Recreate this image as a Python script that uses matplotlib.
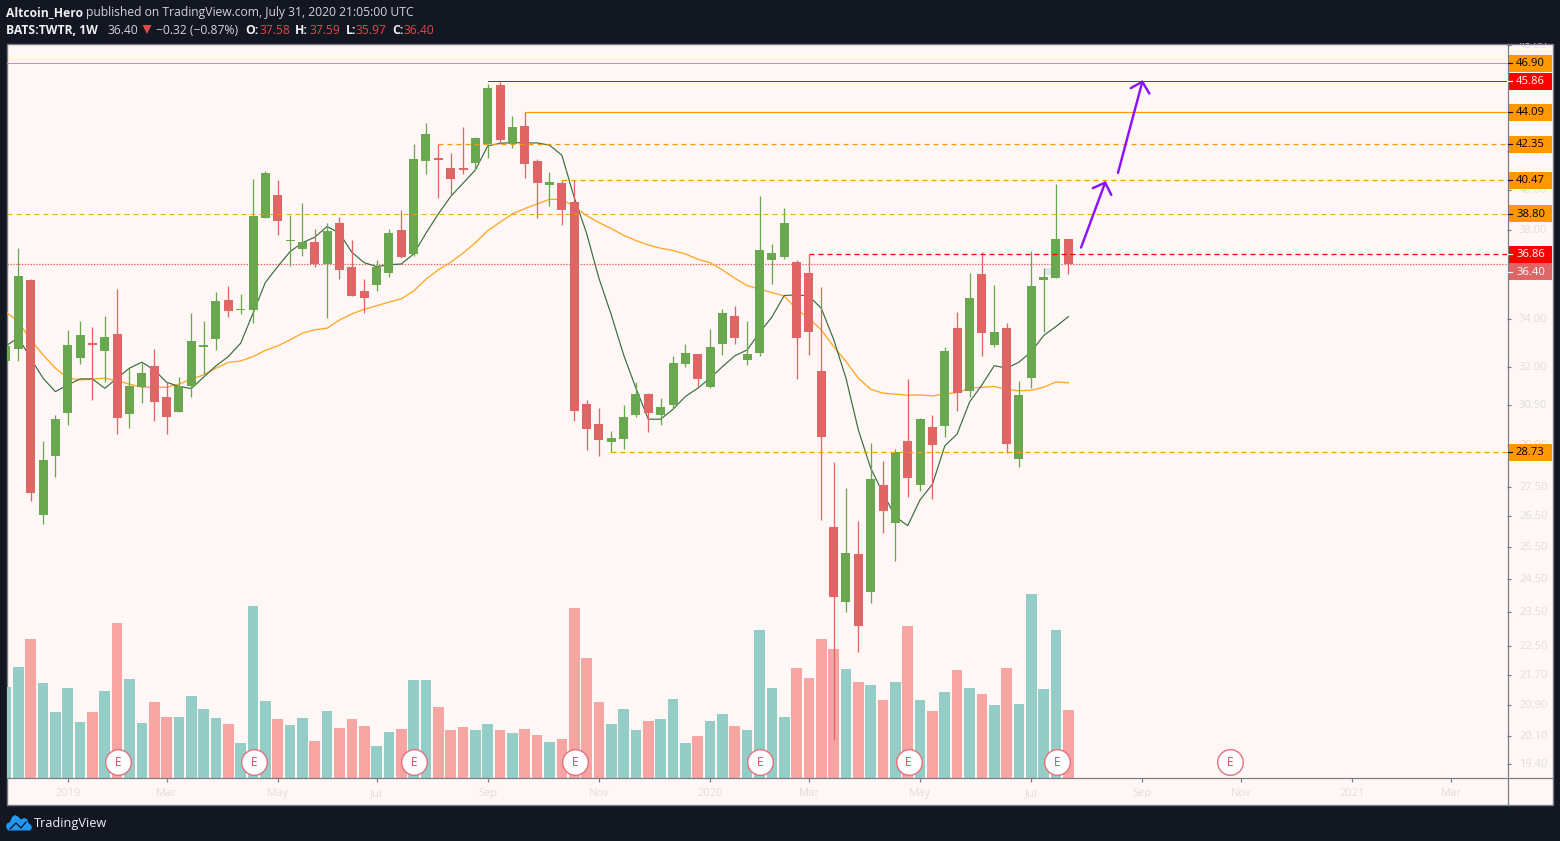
import matplotlib
matplotlib.use('Agg')
import matplotlib.pyplot as plt
import numpy as np
from matplotlib.patches import Rectangle, Polygon
from matplotlib.transforms import ScaledTranslation

# ---- data (weekly BATS:TWTR, candle index 0 = first whole candle) ----
opens = [32.23,32.72,35.70,26.55,28.60,30.19,32.35,32.97,32.64,33.35,30.15,31.19,32.03,30.80,30.23,31.23,32.81,33.14,34.81,34.37,34.37,38.60,39.73,37.49,37.12,37.45,36.42,38.35,36.28,35.20,35.47,36.01,38.02,36.88,41.47,41.63,41.10,41.10,41.36,42.37,45.64,42.37,43.34,41.47,40.23,40.34,39.38,30.53,29.77,29.11,29.22,30.11,30.92,30.11,30.49,32.11,32.52,31.19,32.93,34.11,32.27,32.56,36.61,36.74,36.51,36.01,31.83,26.15,23.79,25.28,24.09,27.57,26.28,29.14,27.57,29.66,29.70,33.60,31.04,35.97,32.89,33.60,28.49,31.55,35.70,35.79,37.58]
highs = [32.96,37.16,35.74,29.14,30.11,33.52,33.90,33.64,34.11,35.29,31.95,32.15,32.72,31.39,31.59,34.24,33.90,35.16,35.43,35.07,40.54,40.95,40.49,38.74,39.33,38.06,38.35,38.64,37.54,35.74,36.61,38.06,38.99,42.37,43.50,42.37,41.89,43.28,42.74,45.69,45.81,43.89,44.09,41.57,40.90,40.47,40.47,30.69,30.38,29.51,30.49,31.39,30.96,30.76,32.44,32.93,32.52,33.56,34.42,34.55,33.90,39.68,37.35,39.08,36.61,36.88,35.38,28.38,27.47,26.35,29.07,28.42,28.85,31.51,30.00,30.11,32.81,34.29,36.01,36.98,35.47,33.81,31.43,37.02,36.24,40.28,37.59]
lows = [32.23,32.23,27.02,26.25,27.85,29.74,32.11,30.69,31.39,29.40,29.62,30.57,29.89,29.40,30.23,30.80,31.71,32.68,34.07,34.20,33.81,38.60,37.78,36.33,36.79,36.28,34.03,35.74,34.98,34.24,35.20,35.83,36.70,36.79,40.80,39.58,39.73,40.80,41.00,41.63,42.37,42.15,40.59,38.60,39.18,38.26,29.89,28.81,28.60,28.72,28.85,30.04,29.48,29.74,30.38,31.99,31.23,31.15,32.48,32.93,32.07,32.44,35.52,36.65,31.51,32.48,26.38,20.00,23.49,22.34,23.76,25.95,25.05,27.16,27.36,27.09,29.29,30.27,30.80,32.44,32.81,28.71,28.20,31.15,33.43,35.79,35.97]
closes = [32.85,35.88,27.29,28.45,29.96,32.89,33.31,32.89,33.22,30.00,31.23,31.75,30.61,30.04,31.23,33.06,32.89,34.76,34.33,34.42,38.69,40.85,38.45,37.54,37.45,36.42,37.97,36.15,34.98,34.90,36.28,37.87,36.74,41.57,42.90,41.52,40.54,41.00,42.69,45.46,42.58,43.28,41.31,40.34,40.39,38.99,30.27,29.59,29.18,29.25,30.04,30.92,30.19,30.42,32.15,32.56,31.51,32.81,34.24,33.18,32.52,37.07,36.93,38.35,33.18,33.43,29.29,23.94,25.31,23.08,27.78,26.68,28.74,27.82,29.96,29.00,32.64,30.96,34.90,33.39,33.43,29.03,30.88,35.43,35.83,37.59,36.40]
ma_fast = [32.85,33.19,32.34,31.54,31.01,31.27,31.51,31.51,31.14,31.54,31.94,32.18,31.87,31.38,31.21,31.13,31.58,32.03,32.41,32.96,34.23,35.58,36.30,36.99,37.41,37.67,38.18,37.86,36.96,36.48,36.30,36.38,36.42,36.88,37.86,38.79,39.65,40.32,41.00,42.26,42.40,42.44,42.42,42.42,42.30,41.77,39.61,37.86,35.77,34.16,32.48,31.14,29.95,29.95,30.33,30.82,31.14,31.54,32.00,32.44,32.68,33.40,34.06,35.00,35.03,34.98,34.44,33.12,31.54,29.55,28.16,27.28,26.49,26.19,27.06,27.59,28.96,29.40,30.60,31.27,32.04,31.94,32.18,32.61,33.28,33.66,34.08]
ma_slow = [34.27,33.87,33.10,32.48,31.94,31.54,31.47,31.50,31.54,31.44,31.30,31.18,31.18,31.18,31.30,31.50,31.67,31.94,32.17,32.23,32.41,32.66,32.85,33.10,33.38,33.52,33.59,33.94,34.20,34.40,34.55,34.71,34.85,35.20,35.73,36.15,36.50,36.92,37.41,37.98,38.39,38.79,39.05,39.28,39.51,39.51,39.15,38.71,38.37,38.08,37.76,37.51,37.30,37.15,37.04,36.88,36.64,36.48,36.15,35.77,35.44,35.28,35.13,34.98,34.40,34.01,33.52,32.82,32.21,31.54,31.10,30.95,30.91,30.87,30.88,30.84,30.92,30.97,31.14,31.18,31.21,31.10,31.04,31.06,31.18,31.39,31.36]
volumes = [91,111,139,95,66,90,56,66,87,155,99,55,76,61,61,82,69,60,54,35,172,77,59,53,60,37,67,50,59,52,32,46,49,98,98,71,48,51,48,54,48,45,49,43,36,39,170,120,76,54,69,48,57,59,79,35,42,57,64,52,48,148,90,61,110,100,139,129,109,96,93,78,96,152,78,67,86,108,90,84,73,110,74,184,89,148,68]
levels = [46.90, 45.86, 44.09, 42.35, 40.47, 38.80, 36.86, 28.73]
level_start = [None, 38, 41, 34, 44, None, 64, 48]
level_colour = ['#ff9800', '#ff0000', '#ff9800', '#ff9800', '#ff9800', '#ff9800', '#ff0000', '#ff9800']
level_dashed = [False, False, False, True, True, True, True, True]
level_width = [1.0, 1.0, 1.2, 1.2, 1.2, 0.9, 1.3, 1.2]
last_price = 36.40
earnings_idx = [8, 19, 32, 45, 60, 72, 84, 98]
date_idx = [4, 12, 21, 29, 38, 47, 56, 64, 73, 82, 91, 99, 108, 116]
date_labels = ['2019', 'Mar', 'May', 'Jul', 'Sep', 'Nov', '2020', 'Mar', 'May', 'Jul', 'Sep', 'Nov', '2021', 'Mar']
price_ticks = [48, 42, 40, 38, 34, 32, 30.5, 29, 27.5, 26.5, 25.5, 24.5, 23.5, 22.5, 21.7, 20.9, 20.1, 19.4]
arrow1_x = [86.03, 87.98]; arrow1_y = [37.18, 40.35]
arrow1_barb_x = [86.98, 87.98, 88.48]; arrow1_barb_y = [40.07, 40.35, 39.73]
arrow2_x = [89.02, 90.99]; arrow2_y = [40.85, 45.82]
arrow2_barb_x = [90.05, 90.99, 91.56]; arrow2_barb_y = [45.45, 45.82, 45.14]

idx = np.arange(-1, len(opens) - 1)

DARK = '#131722'; PANEL = '#fff7f5'; BORDER = '#787b86'; TICK = '#dedede'
UP = '#6aa84f'; DOWN = '#e06666'; VUP = '#93cdc6'; VDOWN = '#f7a5a3'
PX = 0.72
plt.rcParams['font.family'] = ['Open Sans', 'DejaVu Sans']

fig = plt.figure(figsize=(15.6, 8.41), dpi=100, facecolor=DARK)
def pixel_axes(z):
    a = fig.add_axes([0, 0, 1, 1], zorder=z)
    a.set_xlim(0, 1560); a.set_ylim(841, 0); a.axis('off'); a.patch.set_alpha(0)
    return a
back = pixel_axes(0)
back.add_patch(Rectangle((6.5, 43.5), 1546, 761, fc=PANEL, ec=BORDER, lw=1.0))

rect = [7 / 1560, 1 - 777.5 / 841, 1500 / 1560, 733.5 / 841]
xlim = (-0.915, 120.51)

# volume pane
axv = fig.add_axes(rect, zorder=1)
axv.patch.set_alpha(0)
axv.set_xlim(*xlim); axv.set_ylim(0, 733.5); axv.axis('off')
vcol = [VUP if c >= o else VDOWN for o, c in zip(opens, closes)]
axv.bar(idx, volumes, width=0.86, color=vcol, linewidth=0)
ex = np.array(earnings_idx) + 0.07
axv.scatter(ex, [15.5] * len(ex), s=340, facecolor='#ffffff', edgecolor='#e8707f', linewidth=1.4 * PX, zorder=4)
for e in ex:
    axv.text(e, 15.5, 'E', ha='center', va='center', color='#f0405a', fontsize=8.6, zorder=5)

# price pane
ax = fig.add_axes(rect, zorder=2)
ax.patch.set_alpha(0)
ax.set_yscale('log')
ax.set_xlim(*xlim); ax.set_ylim(19.07, 48.05)
for s in ax.spines.values():
    s.set_visible(False)
ax.axhline(last_price, color=DOWN, lw=1.0 * PX * 1.2, ls=(0, (1.2, 1.2)), zorder=1.5)
ax.plot(idx, ma_slow, color='#ffa726', lw=1.1 * PX * 1.2, zorder=2, solid_joinstyle='round')
ax.plot(idx, ma_fast, color='#38703f', lw=1.0 * PX * 1.2, zorder=2.1, solid_joinstyle='round')
ax.bar([83.5], [36.24 - 35.92], bottom=[35.92], width=1.0, color='#dfe6f0', linewidth=0, zorder=2.2)

col = [UP if c >= o else DOWN for o, c in zip(opens, closes)]
ax.vlines(idx, lows, highs, colors=col, lw=1.3 * PX, zorder=3)
tops = np.maximum(opens, closes); bots = np.minimum(opens, closes)
ax.bar(idx, np.maximum(tops - bots, 0.05), bottom=bots, width=0.73, color=col, linewidth=0, zorder=3.1)

for p, st, c, dsh, w in zip(levels, level_start, level_colour, level_dashed, level_width):
    x0 = xlim[0] if st is None else st
    lw = w * PX
    ax.plot([x0, xlim[1]], [p, p], color=c, lw=lw, zorder=4,
            ls=(0, (5 * PX / lw, 4 * PX / lw)) if dsh else '-', clip_on=True)

for xs, ys in ((arrow1_x, arrow1_y), (arrow1_barb_x, arrow1_barb_y), (arrow2_x, arrow2_y), (arrow2_barb_x, arrow2_barb_y)):
    ax.plot(xs, ys, color='#8c0fff', lw=2.4 * PX, zorder=5, solid_capstyle='round', solid_joinstyle='round')

ax.yaxis.tick_right()
ax.minorticks_off()
ax.set_yticks(price_ticks)
ax.set_yticklabels([f'{t:.2f}' for t in price_ticks])
ax.tick_params(axis='y', which='major', length=4 * PX, width=1.2 * PX, color=BORDER, labelcolor=TICK, labelsize=8, pad=8 * PX)
ax.tick_params(axis='y', which='minor', length=0)
ax.set_xticks(date_idx)
ax.set_xticklabels(date_labels)
ax.tick_params(axis='x', length=4 * PX, width=1.2 * PX, color=BORDER, labelcolor=TICK, labelsize=8, pad=6.5 * PX)
up_1px = ScaledTranslation(0, 1 / 100, fig.dpi_scale_trans)
for lab in ax.get_yticklabels():
    lab.set_transform(lab.get_transform() + up_1px)

# top layer: frame, price tags, header, footer
top = pixel_axes(3)
top.add_patch(Rectangle((0, 0), 1560, 43, fc=DARK, ec='none'))
top.plot([6.5, 1553], [43.5, 43.5], color=BORDER, lw=1.0 * PX)
top.plot([1507.5, 1507.5], [43.5, 804.5], color=BORDER, lw=1.2 * PX)
top.plot([6.5, 1553], [777.5, 777.5], color=BORDER, lw=1.2 * PX)

def price_y(p):
    return 841 - ax.transData.transform((0, p))[1]

fig.canvas.draw()
tags = [(p, c, 'white' if c == '#ff0000' else 'black', 0) for p, c in zip(levels, level_colour)] + [(last_price, DOWN, 'white', 7.4)]
for p, c, tc, shift in tags:
    y = price_y(p) + shift
    top.add_patch(Rectangle((1507.5, y - 8.5), 44.5, 17, fc=c, ec='none'))
    top.plot([1507.5, 1511.5], [y, y], color='#111111' if tc == 'black' else '#ffffff', lw=1.2 * PX)
    top.text(1516, y + 0.3, f'{p:.2f}', color=tc, fontsize=8.1, ha='left', va='center')

BOLD = '#eef0f5'; NORM = '#d1d4dc'; RED = '#e04a4a'
def head(x, y, s, c=NORM, w='normal'):
    top.text(x, y, s, color=c, fontsize=8.75, fontweight=w, ha='left', va='center')
head(6, 12.5, 'Altcoin_Hero', BOLD, 'bold')
head(86.5, 12.5, 'published on TradingView.com, July 31, 2020 21:05:00 UTC')
head(6, 30, 'BATS:TWTR, 1W', BOLD, 'bold')
head(107, 30, '36.40')
top.add_patch(Polygon([(142.5, 25), (151.5, 25), (147, 34)], fc=RED, ec='none'))
head(156, 30, '\u22120.32 (\u22120.87%)')
for xl, lab, xv, val in ((245, 'O:', 259, '37.58'), (295, 'H:', 309, '37.59'), (346, 'L:', 356, '35.97'), (392, 'C:', 404, '36.40')):
    head(xl, 30, lab, BOLD, 'bold')
    head(xv, 30, val, RED)

cloud = [(6, 827), (7, 823.5), (10, 822), (12, 817), (15, 815), (18, 816.5), (21, 819.5), (24, 818), (27, 819), (28.5, 823), (31, 825), (32, 828), (30, 830.5), (8, 830.5)]
top.add_patch(Polygon(cloud, closed=True, fc='#2196f3', ec='none'))
top.plot([10, 16, 21, 26], [829, 823, 828, 822], color=DARK, lw=1.3 * PX)
top.text(34, 823, 'TradingView', color='#eef0f5', fontsize=9.2, ha='left', va='center')

fig.savefig('out.png', dpi=100, facecolor=DARK)
